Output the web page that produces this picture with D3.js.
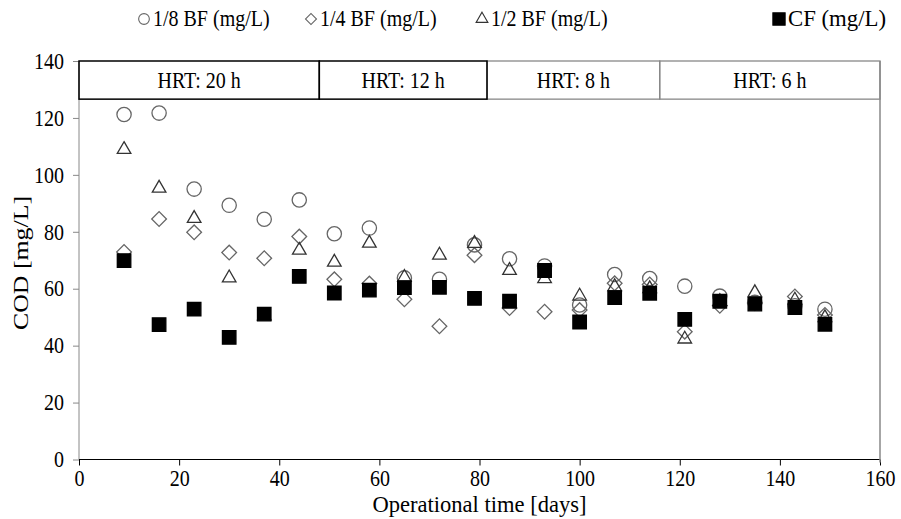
<!DOCTYPE html>
<html><head><meta charset="utf-8">
<script src="https://cdn.jsdelivr.net/npm/d3@7"></script>
<style>body{margin:0;background:#fff}svg{display:block}text{font-family:"Liberation Serif","Times New Roman",serif;fill:#000}</style>
</head><body><svg id="c" width="901" height="519"></svg>
<script>
const days = [9,16,23,30,37,44,51,58,65,72,79,86,93,100,107,114,121,128,135,143,149];
const bf18 = [121.2,121.7,95,89.3,84.4,91.2,79.3,81.3,63.8,63.3,75.4,70.5,68,54.3,65,63.6,60.9,57.4,55.2,54,52.8];
const bf14 = [72.9,84.5,79.8,72.7,70.7,78.3,63.3,61.8,56.3,46.8,71.8,53.2,51.9,52.5,61.9,61.5,44.9,54.0,55,57.3,50.8];
const bf12 = [108.9,95.3,84.7,63.8,50.4,73.5,69.3,76,64,71.8,75.9,66.4,63.5,57.4,60.7,60,42.3,55.5,58.6,56,49.8];
const cf   = [69.9,47.4,52.8,42.9,51.1,64.3,58.5,59.5,60.4,60.5,56.6,55.6,66.4,48.3,56.9,58.4,49.2,55.6,54.6,53.4,47.5];
const seriesNames = ["1/8 BF (mg/L)","1/4 BF (mg/L)","1/2 BF (mg/L)","CF (mg/L)"];
const hrtLabels = ["HRT: 20 h","HRT: 12 h","HRT: 8 h","HRT: 6 h"];
const hrtBounds = [0,48,81.5,116,160];
const xTicks = [0,20,40,60,80,100,120,140,160];
const yTicks = [0,20,40,60,80,100,120,140];

const SY = 1.2; // vertical stretch of the lettering
const svg = d3.select("#c");
const x = d3.scaleLinear().domain([0,160]).range([79,880]);
const y = d3.scaleLinear().domain([0,140]).range([459.5,61]);

function label(cx, cy, str, size, anchor, len) {
  const t = svg.append("text").attr("transform","translate("+cx+","+cy+") scale(1,"+SY+")")
    .attr("text-anchor",anchor).attr("font-size",size).text(str);
  if (len) t.attr("textLength",len).attr("lengthAdjust","spacingAndGlyphs");
  return t;
}

// axes
const yAx = svg.append("g").attr("transform","translate(79,0)")
  .call(d3.axisLeft(y).tickValues(yTicks).tickSize(6).tickPadding(9).tickFormat(d3.format("d")));
yAx.selectAll("path,line").attr("stroke","#888");
yAx.selectAll("text").attr("font-size",20).attr("dy","0.3em").attr("transform","scale(1,"+SY+")");
yAx.select(".domain").attr("d","M0,"+y(140)+"V"+y(0));

const xAx = svg.append("g").attr("transform","translate(0,"+y(0)+")")
  .call(d3.axisBottom(x).tickValues(xTicks).tickSize(6).tickPadding(2).tickFormat(d3.format("d")));
xAx.selectAll("path,line").attr("stroke","#000");
xAx.selectAll("text").attr("font-size",20).attr("transform","scale(1,"+SY+")");
xAx.select(".domain").attr("d","M"+x(0)+",0H"+x(160));

// right border
svg.append("line").attr("x1",x(160)).attr("x2",x(160)).attr("y1",y(140)).attr("y2",y(0)+3)
  .attr("stroke","#888").attr("stroke-width",1.5);

// HRT boxes
const boxTop = 140, boxBot = 126.6;
for (let i = 3; i >= 0; i--) {
  const dark = i < 2;
  svg.append("rect").attr("x",x(hrtBounds[i])).attr("y",y(boxTop))
    .attr("width",x(hrtBounds[i+1])-x(hrtBounds[i])).attr("height",y(boxBot)-y(boxTop))
    .attr("fill","none").attr("stroke",dark?"#000":"#888").attr("stroke-width",dark?1.5:1.3);
  label((x(hrtBounds[i])+x(hrtBounds[i+1]))/2, (y(boxTop)+y(boxBot))/2+8, hrtLabels[i], 20, "middle");
}

// axis titles
label((x(0)+x(160))/2, 512, "Operational time [days]", 20, "middle", 214);
svg.append("text").attr("transform","translate(28,263) rotate(-90)").attr("text-anchor","middle")
  .attr("font-size",20).attr("textLength",134).attr("lengthAdjust","spacingAndGlyphs").text("COD [mg/L]");

// markers
const symCircle = d3.symbol().type(d3.symbolCircle).size(160)();
const symDiamond = d3.symbol().type(d3.symbolSquare).size(108)();
const symTri = d3.symbol().type(d3.symbolTriangle).size(80)();
const symSq = d3.symbol().type(d3.symbolSquare).size(182)();
const styles = [
  {d:symCircle, fill:"none", stroke:"#666", rot:0},
  {d:symDiamond, fill:"none", stroke:"#666", rot:45},
  {d:symTri, fill:"none", stroke:"#333", rot:0},
  {d:symSq, fill:"#000", stroke:"#000", rot:0}
];
const allSeries = [bf18, bf14, bf12, cf];
allSeries.forEach((vals,si) => {
  const st = styles[si];
  svg.append("g").selectAll("path").data(days.map((d,i)=>({d,v:vals[i]}))).join("path")
    .attr("d",st.d).attr("fill",st.fill).attr("stroke",st.stroke).attr("stroke-width",1.3)
    .attr("transform",p=>"translate("+x(p.d)+","+y(p.v)+") rotate("+st.rot+")");
});

// legend
const legX = [144,311,482,779];
const legLen = [null,null,null,98];
const legSyms = [
  d3.symbol().type(d3.symbolCircle).size(90)(),
  d3.symbol().type(d3.symbolSquare).size(60)(),
  d3.symbol().type(d3.symbolTriangle).size(60)(),
  d3.symbol().type(d3.symbolSquare).size(150)()
];
seriesNames.forEach((n,i) => {
  const st = styles[i];
  svg.append("path").attr("d",legSyms[i]).attr("fill",st.fill).attr("stroke",st.stroke).attr("stroke-width",1.1)
    .attr("transform","translate("+legX[i]+",19) rotate("+st.rot+")");
  label(legX[i]+9, 26, n, 20, "start", legLen[i]);
});
</script></body></html>
